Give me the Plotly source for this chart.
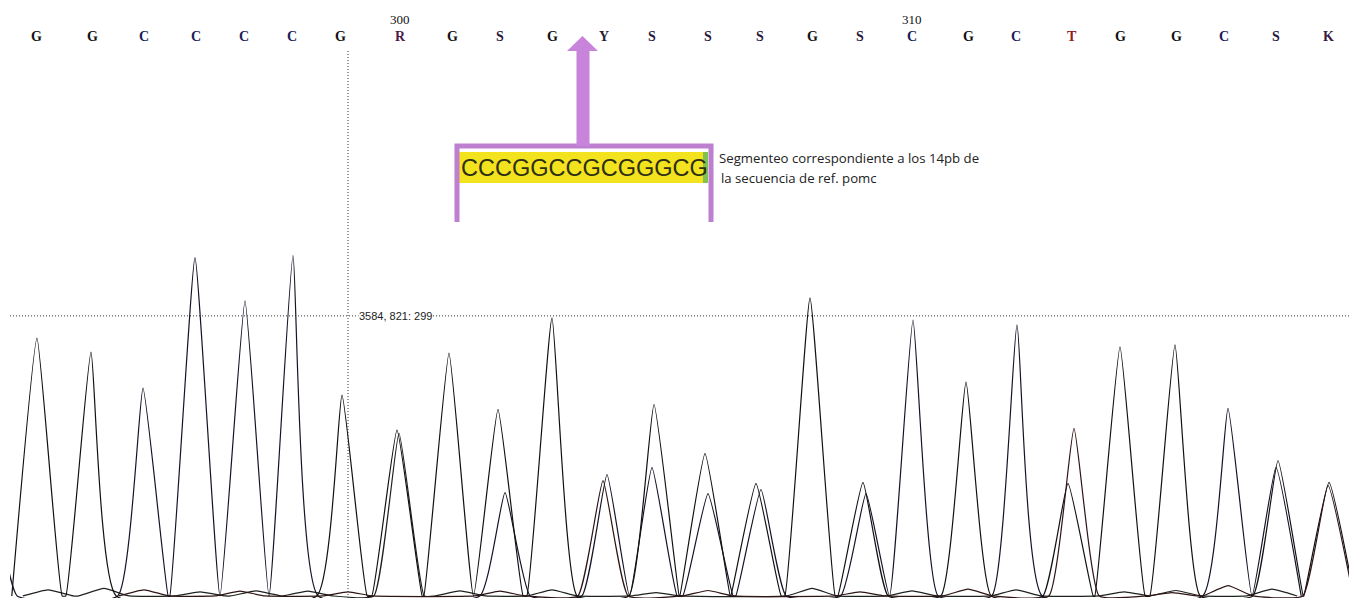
import plotly.graph_objects as go

# ---------------- data ----------------
# base calls shown along the top, with their scan positions
base_labels = ["G", "G", "C", "C", "C", "C", "G", "R", "G", "S", "G", "Y", "S",
               "S", "S", "G", "S", "C", "G", "C", "T", "G", "G", "C", "S", "K"]
base_scans = [3506, 3520, 3533, 3546, 3558, 3570, 3582, 3597, 3610, 3622, 3635,
              3648, 3660, 3674, 3687, 3700, 3712, 3725, 3739, 3751, 3765, 3777,
              3791, 3803, 3816, 3829]
base_numbers = ["300", "310"]
base_number_scans = [3597, 3725]

# peak apex positions (scan) and heights (signal) per dye channel
g_pos = [3506.25, 3519.75, 3582.5, 3596.25, 3609.25, 3621.5, 3635, 3660.5, 3673.25,
         3686, 3699.5, 3712.75, 3738.5, 3764, 3777, 3790.75, 3816.5, 3829.25]
g_h = [756, 715, 589, 486, 712, 547, 815, 562, 418, 330, 874, 333, 627, 330, 730,
       736, 397, 333]

c_pos = [3495, 3532.75, 3545.75, 3558.25, 3570.25, 3623.25, 3648.75, 3660, 3674,
         3687.25, 3713.5, 3725.25, 3751.25, 3804, 3816]
c_h = [300, 609, 992, 865, 998, 303, 356, 377, 300, 312, 300, 809, 795, 550, 377]

a_pos = [3509, 3523, 3547, 3561, 3574, 3596.75, 3612, 3635, 3661, 3700, 3725, 3751,
         3778, 3791, 3815]
a_h = [18, 22, 12, 15, 14, 477, 15, 18, 10, 22, 15, 18, 12, 16, 20]

t_pos = [3533, 3557, 3584, 3622, 3647.75, 3674, 3712, 3739, 3765.5, 3790, 3804, 3829]
t_h = [18, 14, 12, 14, 338, 16, 12, 20, 491, 10, 30, 324]

# cursor readout
cursor_scan = 3584
cursor_signal = 821
cursor_base = 299

segment_seq = "CCCGGCCGCGGGCG"

# ---------------- styling / helpers ----------------
HALF_W = 6.3          # half width of a peak at its base, in scans
W, H = 1349, 598


def peak_polyline(pos, heights):
    xs, ys = [], []
    n = len(pos)
    for i in range(n):
        p, h = pos[i], heights[i]
        left = p - HALF_W
        if not (i > 0 and pos[i - 1] + HALF_W > left):
            xs.append(left)
            ys.append(0)
        xs.append(p)
        ys.append(h)
        right = p + HALF_W
        if i < n - 1 and pos[i + 1] - HALF_W < right:
            xs.append((p + pos[i + 1]) / 2)
            ys.append(0)
        else:
            xs.append(right)
            ys.append(0)
    return xs, ys


def px(x):
    return x / W


def py(y):
    return 1 - y / H


fig = go.Figure()

channels = [
    ("A", a_pos, a_h, "#1c221c"),
    ("C", c_pos, c_h, "#141428"),
    ("G", g_pos, g_h, "#111111"),
    ("T", t_pos, t_h, "#2e1414"),
]
for name, pos, hh, col in channels:
    xs, ys = peak_polyline(pos, hh)
    fig.add_trace(go.Scatter(
        x=xs, y=ys, mode="lines", name=name,
        line=dict(color=col, width=1.2, shape="spline", smoothing=0.4),
        hoverinfo="skip", showlegend=False))

base_colors = {"G": "#111111", "C": "#1b1b5a", "R": "#4e1a48", "S": "#2c1640",
               "Y": "#2a1a34", "T": "#8c2222", "K": "#3a1a44", "A": "#1a4a1a"}

annotations = []
for lab, sx in zip(base_labels, base_scans):
    annotations.append(dict(
        x=sx, xref="x", y=py(37), yref="paper", text=lab, showarrow=False,
        xanchor="center", yanchor="middle",
        font=dict(family="Liberation Serif", size=14, color=base_colors[lab],
                  weight="bold")))
for num, sx in zip(base_numbers, base_number_scans):
    annotations.append(dict(
        x=sx, xref="x", y=py(20), yref="paper", text=num, showarrow=False,
        xanchor="center", yanchor="middle",
        font=dict(family="Liberation Serif", size=13, color="#111111")))

# cursor readout label
annotations.append(dict(
    x=cursor_scan + 2.5, xref="x", y=cursor_signal, yref="y",
    text=f"{cursor_scan}, {cursor_signal}: {cursor_base}", showarrow=False,
    xanchor="left", yanchor="middle", bgcolor="white", borderpad=0,
    font=dict(family="Liberation Sans", size=11, color="#222222")))

# highlighted segment sequence
annotations.append(dict(
    x=px(584), xref="paper", y=py(168), yref="paper", text=segment_seq,
    showarrow=False, xanchor="center", yanchor="middle",
    font=dict(family="Liberation Sans", size=23.5, color="#2e2e14")))
annotations.append(dict(
    x=px(717), xref="paper", y=py(158), yref="paper",
    text="Segmenteo correspondiente a los 14pb de", showarrow=False,
    xanchor="left", yanchor="middle",
    font=dict(family="Open Sans", size=13.2, color="#222222")))
annotations.append(dict(
    x=px(719), xref="paper", y=py(178), yref="paper",
    text="la secuencia de ref. pomc", showarrow=False,
    xanchor="left", yanchor="middle",
    font=dict(family="Open Sans", size=13.2, color="#222222")))

purple = "#bd7fd0"
shapes = [
    # cursor lines
    dict(type="line", xref="x", yref="paper", x0=cursor_scan, x1=cursor_scan,
         y0=0, y1=py(50), line=dict(color="#333333", width=1, dash="1px,2px")),
    dict(type="line", xref="paper", yref="y", x0=px(10), x1=1,
         y0=cursor_signal, y1=cursor_signal,
         line=dict(color="#333333", width=1, dash="1px,2px"), layer="below"),
    # yellow highlight box
    dict(type="rect", xref="paper", yref="paper", x0=px(458), x1=px(708),
         y0=py(183), y1=py(152), fillcolor="#f3e21e", line=dict(width=0)),
    dict(type="rect", xref="paper", yref="paper", x0=px(703), x1=px(708),
         y0=py(183), y1=py(152), fillcolor="#7fc250", line=dict(width=0)),
    # bracket
    dict(type="path", xref="paper", yref="paper",
         path=f"M {px(457)},{py(222)} L {px(457)},{py(146)} L {px(711)},{py(146)} L {px(711)},{py(222)}",
         line=dict(color=purple, width=5)),
    # arrow shaft and head
    dict(type="rect", xref="paper", yref="paper", x0=px(576.5), x1=px(589.5),
         y0=py(146), y1=py(50), fillcolor="#c784da", line=dict(width=0)),
    dict(type="path", xref="paper", yref="paper",
         path=f"M {px(567)},{py(51)} L {px(598)},{py(51)} L {px(582.5)},{py(36)} Z",
         fillcolor="#c784da", line=dict(width=0)),
]

fig.update_layout(
    width=W, height=H, margin=dict(l=0, r=0, t=0, b=0),
    paper_bgcolor="white", plot_bgcolor="white",
    xaxis=dict(range=[3499.5, 3834.25], domain=[10 / W, 1], visible=False,
               fixedrange=True),
    yaxis=dict(range=[-6, 1747], domain=[0, 1], visible=False, fixedrange=True),
    annotations=annotations, shapes=shapes, showlegend=False,
)

fig.write_html(
    "out.html",
    config={"displayModeBar": False},
    post_script="document.body.style.margin='0';document.body.style.overflow='hidden';",
)
